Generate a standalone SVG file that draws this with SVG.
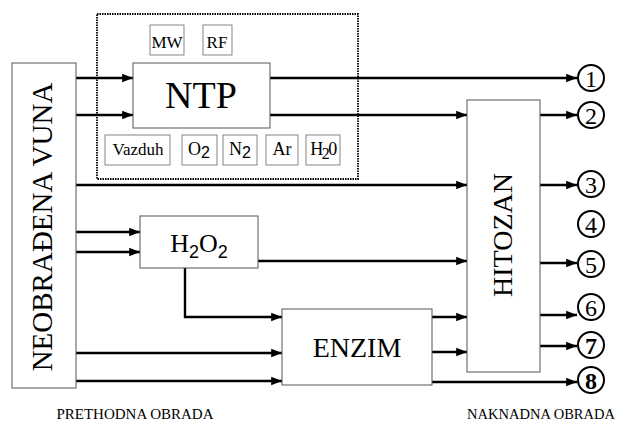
<svg xmlns="http://www.w3.org/2000/svg" width="618" height="430" viewBox="0 0 618 430">
<style>
text{font-family:"Liberation Serif","Times New Roman",serif;fill:#000}
.box{fill:#fff;stroke:#555;stroke-width:1}
.sbox{fill:#fff;stroke:#666;stroke-width:0.8}
.ln{fill:none;stroke:#000;stroke-width:2.4}
.circ{fill:#fff;stroke:#000;stroke-width:2}
.dot{fill:none;stroke:#000;stroke-width:1.8;stroke-dasharray:1.5 1}
.sub{font-family:"Liberation Sans",Arial,sans-serif}
.num{font-size:24px}
</style>
<defs>
<marker id="ah" viewBox="0 0 10 10" refX="10" refY="5" markerWidth="5" markerHeight="4.5" orient="auto" markerUnits="strokeWidth">
<path d="M0,1 L10,5 L0,9 Z" fill="#000"/>
</marker>
</defs>
<rect x="97" y="14" width="261" height="165" class="dot"/>
<g id="connectors">
<line x1="76" y1="78" x2="133" y2="78" class="ln" marker-end="url(#ah)"/>
<line x1="76" y1="115" x2="133" y2="115" class="ln" marker-end="url(#ah)"/>
<line x1="270" y1="78" x2="577" y2="78" class="ln" marker-end="url(#ah)"/>
<line x1="270" y1="115" x2="467" y2="115" class="ln" marker-end="url(#ah)"/>
<line x1="76" y1="185" x2="467" y2="185" class="ln" marker-end="url(#ah)"/>
<line x1="76" y1="232" x2="140" y2="232" class="ln" marker-end="url(#ah)"/>
<line x1="76" y1="252" x2="140" y2="252" class="ln" marker-end="url(#ah)"/>
<line x1="258" y1="261" x2="467" y2="261" class="ln" marker-end="url(#ah)"/>
<polyline points="185,268 185,317 282,317" class="ln" marker-end="url(#ah)"/>
<line x1="76" y1="353" x2="282" y2="353" class="ln" marker-end="url(#ah)"/>
<line x1="76" y1="381" x2="282" y2="381" class="ln" marker-end="url(#ah)"/>
<line x1="432" y1="317" x2="467" y2="317" class="ln" marker-end="url(#ah)"/>
<line x1="432" y1="352" x2="467" y2="352" class="ln" marker-end="url(#ah)"/>
<line x1="432" y1="382" x2="577" y2="382" class="ln" marker-end="url(#ah)"/>
<line x1="540" y1="115" x2="577" y2="115" class="ln" marker-end="url(#ah)"/>
<line x1="540" y1="185" x2="577" y2="185" class="ln" marker-end="url(#ah)"/>
<line x1="540" y1="263" x2="577" y2="263" class="ln" marker-end="url(#ah)"/>
<line x1="540" y1="315" x2="577" y2="315" class="ln" marker-end="url(#ah)"/>
<line x1="540" y1="346" x2="577" y2="346" class="ln" marker-end="url(#ah)"/>
</g>
<g id="vuna">
<rect x="12" y="63" width="64" height="325" class="box"/>
<text transform="translate(52,227) rotate(-90)" text-anchor="middle" font-size="29">NEOBRAĐENA VUNA</text>
</g>
<g id="ntp">
<rect x="133" y="63" width="137" height="65" class="box"/>
<text x="201" y="108" text-anchor="middle" font-size="38">NTP</text>
</g>
<g id="mw"><rect x="150" y="25" width="34" height="30" class="sbox"/><text x="167" y="48" text-anchor="middle" font-size="17">MW</text></g>
<g id="rf"><rect x="203" y="25" width="29" height="30" class="sbox"/><text x="217" y="48" text-anchor="middle" font-size="17">RF</text></g>
<g id="vazduh"><rect x="105" y="135" width="65" height="30" class="sbox"/><text x="138" y="155" text-anchor="middle" font-size="17">Vazduh</text></g>
<g id="o2"><rect x="182" y="135" width="35" height="30" class="sbox"/><text x="199" y="155" text-anchor="middle" font-size="18">O<tspan class="sub" font-size="16" dy="3">2</tspan></text></g>
<g id="n2"><rect x="223" y="135" width="34" height="30" class="sbox"/><text x="240" y="155" text-anchor="middle" font-size="18">N<tspan class="sub" font-size="16" dy="3">2</tspan></text></g>
<g id="ar"><rect x="266" y="135" width="32" height="30" class="sbox"/><text x="282" y="155" text-anchor="middle" font-size="18">Ar</text></g>
<g id="h2o"><rect x="306" y="135" width="34" height="30" class="sbox"/><text x="323" y="155" text-anchor="middle" font-size="18" letter-spacing="-1.5">H<tspan font-size="16" dy="4">2</tspan><tspan dy="-4">0</tspan></text></g>
<g id="h2o2">
<rect x="140" y="216" width="118" height="52" class="box"/>
<text x="199" y="252" text-anchor="middle" font-size="26">H<tspan class="sub" font-size="18" dy="6">2</tspan><tspan dy="-6">O</tspan><tspan class="sub" font-size="18" dy="6">2</tspan></text>
</g>
<g id="enzim">
<rect x="282" y="309" width="150" height="76" class="box"/>
<text x="357" y="357" text-anchor="middle" font-size="28">ENZIM</text>
</g>
<g id="hitozan">
<rect x="467" y="100" width="73" height="272" class="box"/>
<text transform="translate(512,235) rotate(-90)" text-anchor="middle" font-size="28">HITOZAN</text>
</g>
<g id="out1"><circle cx="591" cy="78" r="13" class="circ"/><text x="591" y="86.5" text-anchor="middle" class="num">1</text></g>
<g id="out2"><circle cx="591" cy="115" r="13" class="circ"/><text x="591" y="123.5" text-anchor="middle" class="num">2</text></g>
<g id="out3"><circle cx="591" cy="184" r="13" class="circ"/><text x="591" y="192.5" text-anchor="middle" class="num">3</text></g>
<g id="out4"><circle cx="591" cy="224" r="13" class="circ"/><text x="591" y="232.5" text-anchor="middle" class="num">4</text></g>
<g id="out5"><circle cx="591" cy="264" r="13" class="circ"/><text x="591" y="272.5" text-anchor="middle" class="num">5</text></g>
<g id="out6"><circle cx="591" cy="307" r="13" class="circ"/><text x="591" y="315.5" text-anchor="middle" class="num">6</text></g>
<g id="out7"><circle cx="591" cy="345" r="13" class="circ"/><text x="591" y="353.5" text-anchor="middle" class="num" font-weight="bold">7</text></g>
<g id="out8"><circle cx="591" cy="380" r="13" class="circ" stroke-width="2.6"/><text x="591" y="388.5" text-anchor="middle" class="num" font-weight="bold">8</text></g>
<text x="135" y="419" text-anchor="middle" font-size="15">PRETHODNA OBRADA</text>
<text x="541" y="419" text-anchor="middle" font-size="14.5">NAKNADNA OBRADA</text>
</svg>
